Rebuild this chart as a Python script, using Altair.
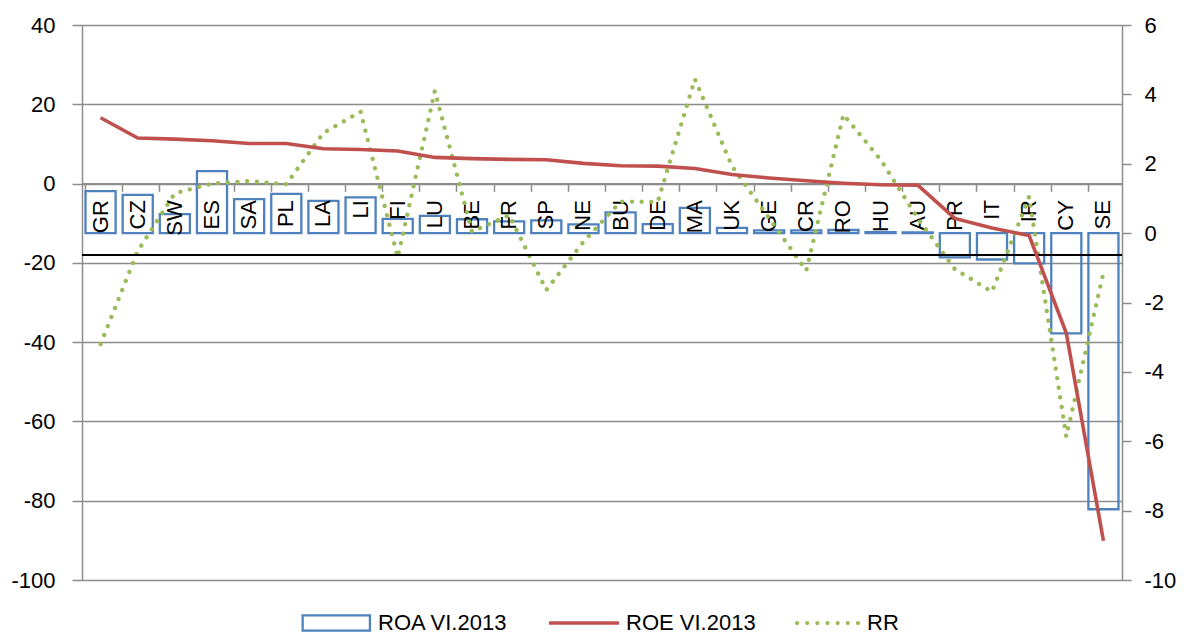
import altair as alt
import pandas as pd

cats = ["GR", "CZ", "SW", "ES", "SA", "PL", "LA", "LI", "FI", "LU", "BE", "FR", "SP", "NE",
        "BU", "DE", "MA", "UK", "GE", "CR", "RO", "HU", "AU", "PR", "IT", "IR", "CY", "SE"]
roa = [1.21, 1.10, 0.55, 1.79, 0.98, 1.13, 0.93, 1.03, 0.41, 0.50, 0.40, 0.34, 0.37, 0.25,
       0.60, 0.26, 0.73, 0.15, 0.08, 0.08, 0.09, 0.03, 0.02, -0.70, -0.76, -0.87, -2.89, -7.96]
roe = [16.6, 11.5, 11.2, 10.8, 10.1, 10.1, 8.8, 8.6, 8.2, 6.6, 6.3, 6.1, 6.0, 5.1,
       4.5, 4.4, 3.8, 2.3, 1.4, 0.7, 0.1, -0.3, -0.4, -8.8, -11.2, -13.1, -37.7, -90.1]
rr = [-3.20, -0.52, 1.15, 1.43, 1.50, 1.41, 2.89, 3.50, -0.70, 4.10, 0.04, 0.52, -1.64, -0.25,
      0.91, 0.90, 4.44, 1.93, 0.43, -1.08, 3.42, 2.12, 0.43, -1.04, -1.69, 1.05, -5.87, -1.14]
series_names = ["ROA VI.2013", "ROE VI.2013", "RR"]
left_ticks = [-100, -80, -60, -40, -20, 0, 20, 40]
right_ticks = [-10, -8, -6, -4, -2, 0, 2, 4, 6]

df = pd.DataFrame({"cat": cats, "roa": roa, "roe": roe, "rr": rr})
df["s_roa"] = series_names[0]
df["s_roe"] = series_names[1]
df["s_rr"] = series_names[2]

FONT = "Liberation Sans"
GRID = "#8c8c8c"
BLUE = "#4F81BD"
RED = "#C0504D"
GREEN = "#9BBB59"
PLAIN_LABEL = "datum.value + ''"

# dotted legend symbol: seven small dots in the unit box
r = 0.058
dot_path = " ".join(
    f"M{(-0.857 + i * 0.2857) - r:.4f},0 a{r},{r} 0 1,0 {2 * r:.4f},0 a{r},{r} 0 1,0 {-2 * r:.4f},0"
    for i in range(7)
)

x_enc = alt.X(
    "cat:N", sort=cats, title=None,
    scale=alt.Scale(type="band", paddingInner=0.19, paddingOuter=0.095),
    axis=alt.Axis(orient="bottom", offset=-396.7, labels=False, tickSize=8, bandPosition=0,
                  domainColor=GRID, domainWidth=1.5, tickColor=GRID, tickWidth=1.5, grid=False),
)

yL_scale = alt.Scale(domain=[-100, 40], nice=False, zero=False)
yL_axis = alt.Axis(orient="left", values=left_ticks, grid=True, gridColor=GRID, gridWidth=1.5,
                   tickSize=10, labelPadding=17, domainColor=GRID, domainWidth=1.5,
                   tickColor=GRID, tickWidth=1.5, title=None, labelExpr=PLAIN_LABEL)
yR_scale = alt.Scale(domain=[-10, 6], nice=False, zero=False)
yR_axis = alt.Axis(orient="right", values=right_ticks, grid=False, tickSize=9, labelPadding=13,
                   domainColor=GRID, domainWidth=1.5, tickColor=GRID, tickWidth=1.5, title=None,
                   labelExpr=PLAIN_LABEL)

leg_common = dict(orient="none", title=None, padding=0, labelFont=FONT, labelFontSize=22,
                  labelColor="black")

bars = alt.Chart().mark_bar(fill="transparent", strokeWidth=2.3).encode(
    x=x_enc,
    y=alt.Y("roa:Q", scale=yR_scale, axis=yR_axis),
    stroke=alt.Stroke("s_roa:N", scale=alt.Scale(domain=[series_names[0]], range=[BLUE]),
                      legend=alt.Legend(legendX=219.3, legendY=563,
                                        symbolType="M-1,-0.224L1,-0.224L1,0.224L-1,0.224Z",
                                        symbolSize=4529, symbolStrokeWidth=2.3, labelOffset=6.7,
                                        **leg_common)),
)

labels = alt.Chart().mark_text(angle=270, align="right", baseline="middle", font=FONT,
                               fontSize=22, color="black").encode(
    x=x_enc,
    y=alt.YDatum(0.95, scale=yR_scale, axis=yR_axis),
    text="cat:N",
)

rr_line = alt.Chart().mark_line(color=GREEN, strokeWidth=4.3, strokeCap="round").encode(
    x=x_enc,
    y=alt.Y("rr:Q", scale=yR_scale, axis=yR_axis),
    strokeDash=alt.StrokeDash("s_rr:N", scale=alt.Scale(domain=[series_names[2]], range=[[0.1, 9.6]]),
                              legend=alt.Legend(legendX=710, legendY=562.5, symbolType=dot_path,
                                                symbolSize=5041, symbolStrokeWidth=0,
                                                symbolFillColor=GREEN, symbolStrokeColor=GREEN,
                                                labelOffset=4, **leg_common)),
)

roe_line = alt.Chart().mark_line(strokeWidth=3.6).encode(
    x=x_enc,
    y=alt.Y("roe:Q", scale=yL_scale, axis=yL_axis),
    color=alt.Color("s_roe:N", scale=alt.Scale(domain=[series_names[1]], range=[RED]),
                    legend=alt.Legend(legendX=465, legendY=561, symbolType="stroke",
                                      symbolSize=4900, symbolStrokeWidth=3.6, labelOffset=5,
                                      **leg_common)),
)

black_rule = alt.Chart().mark_rule(color="black", strokeWidth=1.2).encode(
    y=alt.YDatum(-17.9, scale=yL_scale, axis=yL_axis),
)

right_group = alt.layer(bars, labels, rr_line)
left_group = alt.layer(black_rule, roe_line)

chart = (
    alt.layer(right_group, left_group, data=df)
    .resolve_scale(y="independent")
    .properties(width=1040, height=555, autosize=alt.AutoSizeParams(type="none"),
                padding={"left": 74, "top": 17, "right": 54, "bottom": 55})
    .configure_view(stroke=None)
    .configure_axis(labelFont=FONT, labelFontSize=22, labelColor="black")
)

chart.save("out.html", embed_options={"renderer": "svg", "actions": False})
